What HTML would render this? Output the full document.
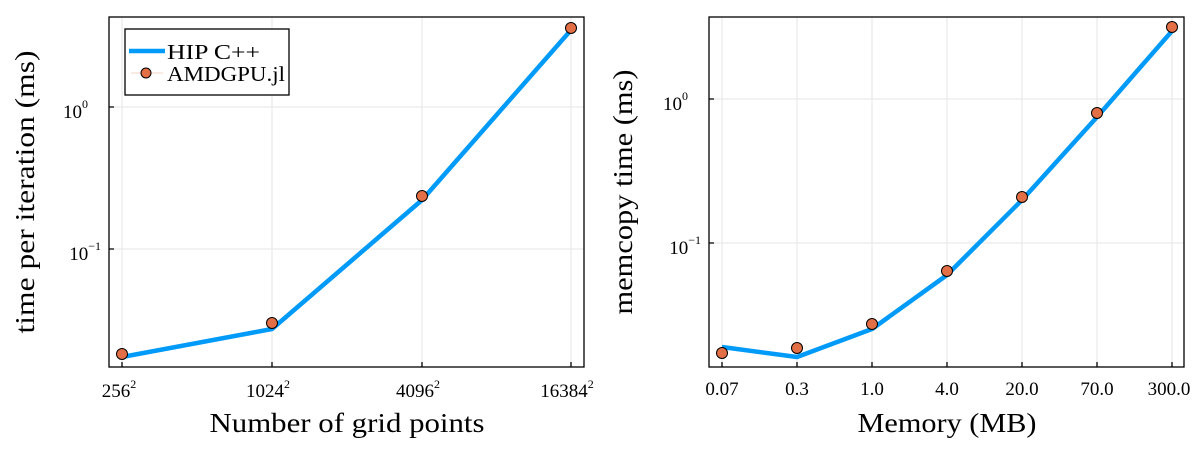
<!DOCTYPE html>
<html><head><meta charset="utf-8"><style>
body{margin:0;background:#fff}
svg{display:block;font-family:"Liberation Serif",serif}
</style></head><body>
<svg width="1200" height="450" viewBox="0 0 1200 450">
<g stroke="#e6e6e6" stroke-width="1">
<line x1="122" y1="17" x2="122" y2="367"/><line x1="272" y1="17" x2="272" y2="367"/><line x1="422" y1="17" x2="422" y2="367"/><line x1="571" y1="17" x2="571" y2="367"/>
<line x1="109" y1="107" x2="584" y2="107"/><line x1="109" y1="249" x2="584" y2="249"/>
<line x1="722" y1="17" x2="722" y2="367"/><line x1="797" y1="17" x2="797" y2="367"/><line x1="872" y1="17" x2="872" y2="367"/><line x1="947" y1="17" x2="947" y2="367"/><line x1="1022" y1="17" x2="1022" y2="367"/><line x1="1097" y1="17" x2="1097" y2="367"/><line x1="1172" y1="17" x2="1172" y2="367"/>
<line x1="709" y1="99" x2="1184" y2="99"/><line x1="709" y1="243" x2="1184" y2="243"/>
</g>
<g stroke="#000" stroke-width="1.3" fill="none">
<rect x="109" y="17" width="475" height="350"/>
<rect x="709" y="17" width="475" height="350"/>
<path d="M122 367v-5M272 367v-5M422 367v-5M571 367v-5M109 107h5M109 249h5M722 367v-5M797 367v-5M872 367v-5M947 367v-5M1022 367v-5M1097 367v-5M1172 367v-5M709 99h5M709 243h5"/>
</g>
<g font-size="19" fill="#000" text-anchor="middle">
<text x="119" y="397">256<tspan font-size="12" dy="-9">2</tspan></text>
<text x="268" y="397">1024<tspan font-size="12" dy="-9">2</tspan></text>
<text x="418" y="397">4096<tspan font-size="12" dy="-9">2</tspan></text>
<text x="567" y="397">16384<tspan font-size="12" dy="-9">2</tspan></text>
<text x="722" y="395">0.07</text><text x="797" y="395">0.3</text><text x="872" y="395">1.0</text><text x="947" y="395">4.0</text><text x="1022" y="395">20.0</text><text x="1097" y="395">70.0</text><text x="1169" y="395">300.0</text>
</g>
<g font-size="19" fill="#000" text-anchor="end">
<text x="88" y="118">10<tspan font-size="12" dy="-10">0</tspan></text>
<text x="101" y="260">10<tspan font-size="12" dy="-10">−1</tspan></text>
<text x="688" y="110">10<tspan font-size="12" dy="-10">0</tspan></text>
<text x="701" y="254">10<tspan font-size="12" dy="-10">−1</tspan></text>
</g>
<g font-size="27" fill="#000" text-anchor="middle">
<text x="347" y="432" textLength="275" lengthAdjust="spacingAndGlyphs">Number of grid points</text>
<text x="947" y="432" textLength="179" lengthAdjust="spacingAndGlyphs">Memory (MB)</text>
<text transform="translate(34,192) rotate(-90)" textLength="283" lengthAdjust="spacingAndGlyphs">time per iteration (ms)</text>
<text transform="translate(632,192) rotate(-90)" textLength="245" lengthAdjust="spacingAndGlyphs">memcopy time (ms)</text>
</g>
<g fill="none" stroke="#009af9" stroke-width="4.5" stroke-linejoin="round">
<polyline points="122,357 272,329 422,200 571,30"/>
<polyline points="722,347 797,357 872,329 947,275 1022,200 1097,117 1172,31"/>
</g>
<g fill="#e26f46" stroke="#000" stroke-width="1">
<circle cx="122" cy="354" r="5.5"/><circle cx="272" cy="323" r="5.5"/><circle cx="422" cy="196" r="5.5"/><circle cx="571" cy="28" r="5.5"/>
<circle cx="722" cy="353" r="5.5"/><circle cx="797" cy="348" r="5.5"/><circle cx="872" cy="324" r="5.5"/><circle cx="947" cy="271" r="5.5"/><circle cx="1022" cy="197" r="5.5"/><circle cx="1097" cy="113" r="5.5"/><circle cx="1172" cy="27" r="5.5"/>
</g>
<rect x="125" y="29" width="164" height="66" fill="#fff" stroke="#000" stroke-width="1.3"/>
<line x1="129" y1="51" x2="165" y2="51" stroke="#009af9" stroke-width="4.5"/>
<line x1="131" y1="73" x2="163" y2="73" stroke="#f6d5c8" stroke-width="1"/>
<circle cx="146" cy="73" r="5" fill="#e26f46" stroke="#000" stroke-width="1"/>
<g font-size="21" fill="#000">
<text x="167" y="59" textLength="93" lengthAdjust="spacingAndGlyphs">HIP C++</text>
<text x="167" y="81" textLength="118" lengthAdjust="spacingAndGlyphs">AMDGPU.jl</text>
</g>
</svg>
</body></html>
